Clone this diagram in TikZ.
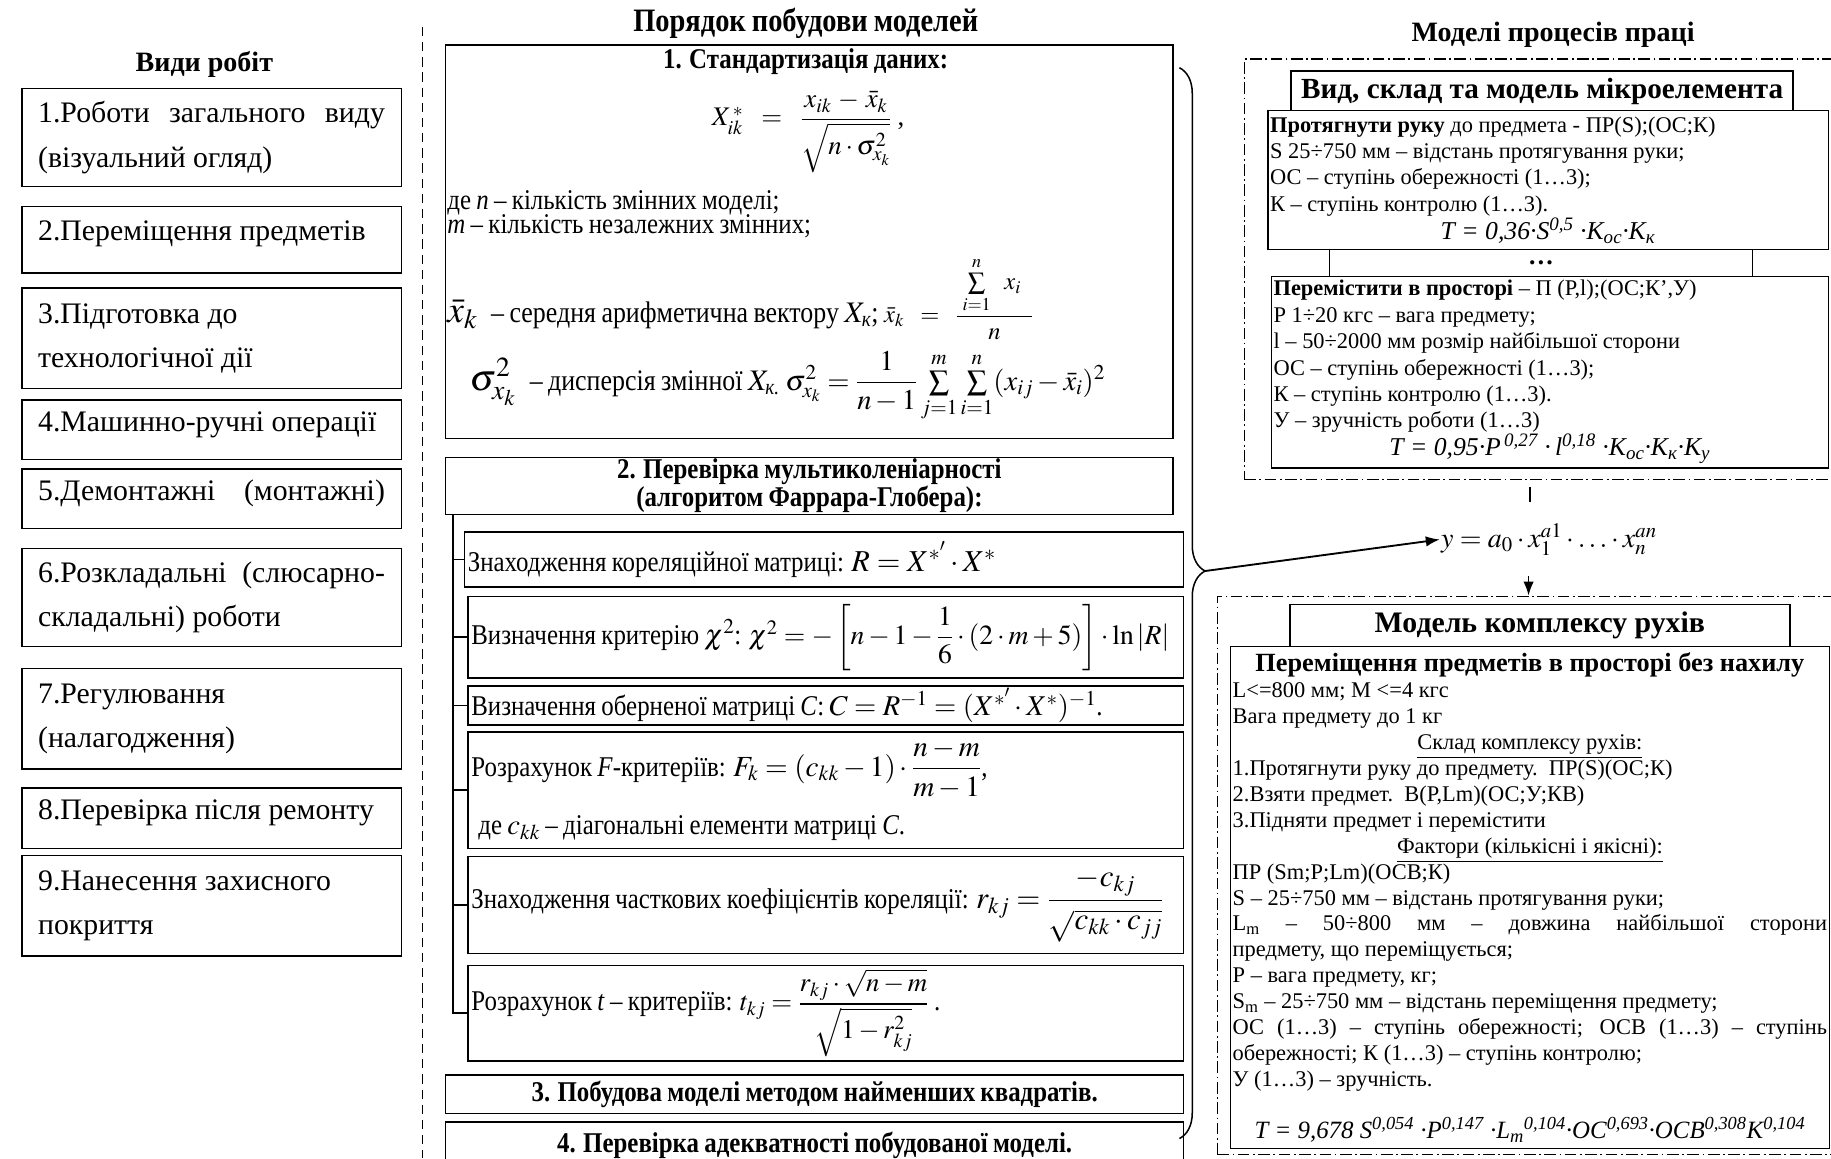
\documentclass[tikz,border=0pt]{standalone}
\usepackage{amsmath}
\usepackage{mathptmx}
\usepackage{fontspec}
\setmainfont{Liberation Serif}
\newfontfamily\narrowserif[FakeStretch=0.87, WordSpace=0.85]{Liberation Serif}
\usetikzlibrary{positioning, calc, arrows.meta, decorations.pathreplacing}

\newcommand{\sized}[2]{\fontsize{#1}{#2}\selectfont}
\newcommand{\fullline}[1]{\leavevmode\hbox to 509pt{\spaceskip=4.8pt plus 1fil\relax #1}}

\begin{document}
\begin{tikzpicture}[
  x=1pt, y=-1pt,
  kind/.style={
    rectangle, draw, line width=1.3pt, anchor=north west,
    text width=297pt, inner xsep=14pt, inner ysep=0pt,
    align=flush left, font=\sized{25.5}{38}
  },
  oneline/.style={text depth=15pt},
  stage/.style={
    rectangle, draw, line width=1.3pt, anchor=north west, fill=white,
    inner sep=0pt
  },
  stagehd/.style={font=\narrowserif\bfseries\sized{24.5}{22}, align=center},
  stagetxt/.style={font=\narrowserif\sized{24.5}{22}, anchor=base west, inner sep=2pt},
  substep/.style={
    rectangle, draw, line width=1.3pt, anchor=north west,
    text width=607pt, inner xsep=3pt, inner ysep=0pt,
    align=flush left, font=\narrowserif\sized{24.5}{27}
  },
  micro/.style={
    rectangle, draw, line width=1.3pt, anchor=north west, fill=white,
    inner xsep=2pt, inner ysep=0pt, align=flush left, font=\sized{19.2}{22.6}
  },
  microhd/.style={
    rectangle, draw, line width=1.3pt, anchor=north west, fill=white,
    inner sep=0pt, font=\bfseries\sized{25}{28}
  },
  outer/.style={
    rectangle, draw, line width=1pt, anchor=north west, inner sep=0pt,
    dash pattern=on 10pt off 3pt on 1.5pt off 3pt
  },
  coltitle/.style={font=\bfseries\sized{24}{28}},
  tree/.style={line width=1.3pt},
  arr/.style={-{Latex[length=12pt, width=9pt]}, line width=1.6pt}
]
  \path[use as bounding box, clip] (0,0) rectangle (1568,992);
  \fill[white] (0,0) rectangle (1568,992);

  % Види робіт
  \node[coltitle] (kindstitle) at (175,55) {Види робіт};
  \node[kind, minimum height=84pt] (w1) at (18,75) {1.Роботи\hfill загального\hfill виду\\(візуальний огляд)};
  \node[kind, oneline, minimum height=57pt] (w2) at (18,176) {2.Переміщення предметів};
  \node[kind, minimum height=86pt] (w3) at (18,246) {3.Підготовка до\\технологічної дії};
  \node[kind, oneline, minimum height=51pt] (w4) at (18,342) {4.Машинно-ручні операції};
  \node[kind, oneline, minimum height=51pt] (w5) at (18,401) {5.Демонтажні\hfill(монтажні)};
  \node[kind, minimum height=84pt] (w6) at (18,469) {6.Розкладальні\hfill(слюсарно-\\складальні) роботи};
  \node[kind, minimum height=86pt] (w7) at (18,572) {7.Регулювання\\(налагодження)};
  \node[kind, oneline, minimum height=52pt] (w8) at (18,674) {8.Перевірка після ремонту};
  \node[kind, minimum height=86pt] (w9) at (18,732) {9.Нанесення захисного\\покриття};
  \draw[line width=1.2pt, dash pattern=on 8pt off 5pt] (362,23) -- (362,992);

  % Порядок побудови моделей
  \node[stagehd, font=\narrowserif\bfseries\sized{28}{30}] (ordtitle) at (690,20) {Порядок побудови моделей};
  \node[stage, minimum width=623pt, minimum height=337pt] (std) at (381,38) {};
  \node[stagehd] (stdhd) at (690,53) {1. Стандартизація даних:};
  \node[font=\sized{23}{24}] (xstar) at (692,113)
    {$X^{\,*}_{ik} \;\;=\;\; \dfrac{x_{ik} \,-\, \bar{x}_{k}}{\sqrt{n\cdot\sigma^{2}_{x_{k}}}}\;$,};
  \node[stagetxt] (nvar) at (381,179) {де \textit{n} – кількість змінних моделі;};
  \node[stagetxt] (mvar) at (381,200) {\textit{m} – кількість незалежних змінних;};
  \node[stagetxt, font=\narrowserif\sized{25.5}{22}] (xmean) at (381,276)
    {{\sized{32}{32}$\bar{x}_{k}$}\; – середня арифметична вектору $X_{\text{\itshape к}}$;
     {\sized{21}{22}$\bar{x}_{k} \;\;=\;\; \dfrac{\;\sum\limits_{i=1}^{n}\;\; x_{i}\;\;}{n}$}};
  \node[stagetxt, font=\narrowserif\sized{25.5}{22}] (xdisp) at (400,334)
    {{\sized{32}{32}$\sigma^{2}_{x_{k}}$}\; – дисперсія змінної $X_{\text{\itshape к.}}$
     {\sized{24.5}{25}$\sigma^{2}_{x_{k}} = \dfrac{1}{n-1}\sum\limits_{j=1}^{m}\sum\limits_{i=1}^{n}(x_{ij}-\bar{x}_{i})^{2}$}};

  \node[stage, stagehd, minimum width=623pt, minimum height=49pt] (mult) at (381,391)
    {2. Перевірка мультиколеніарності\\(алгоритом Фаррара-Глобера):};
  \node[substep, minimum height=47pt, text width=610pt] (corr) at (397,455)
    {Знаходження кореляційної матриці: {\sized{26}{26}$R = X^{*'}\cdot X^{*}$}};
  \node[substep, minimum height=70pt] (chi) at (400,510)
    {\mbox{Визначення критерію $\chi^{2}$: {\sized{23.7}{24}$\chi^{2} = -\left[n-1-\dfrac{1}{6}\cdot(2\cdot m+5)\right]\cdot\ln|R|$}}};
  \node[substep, minimum height=33pt] (inv) at (400,587)
    {\mbox{Визначення оберненої матриці \textit{C}: {\sized{24.5}{24}$C = R^{-1} = (X^{*'}\cdot X^{*})^{-1}$}.}};
  \node[substep, minimum height=100pt] (fcrit) at (400,626)
    {Розрахунок \textit{F}-критеріїв: {\sized{25}{25}$F_{k} = (c_{kk}-1)\cdot\dfrac{n-m}{m-1}$},\\[14pt]
     \hspace*{6pt}де $c_{kk}$ – діагональні елементи матриці \textit{C}.};
  \node[substep, minimum height=83pt] (pcorr) at (400,733)
    {\mbox{Знаходження часткових коефіцієнтів кореляції: {\sized{26.5}{26}$r_{kj} = \dfrac{-c_{kj}}{\sqrt{c_{kk}\cdot c_{jj}}}$}}};
  \node[substep, minimum height=82pt] (tcrit) at (400,826)
    {Розрахунок \textit{t} – критеріїв: {\sized{23}{23}$t_{kj} = \dfrac{r_{kj}\cdot\sqrt{n-m}}{\sqrt{1-r_{kj}^{2}}}$} .};
  \coordinate (trunk) at (388,440);
  \draw[tree] (trunk) |- (tcrit.west);
  \foreach \s in {corr,chi,inv,fcrit,pcorr}
    \draw[tree] (trunk |- \s.west) -- (\s.west);

  \node[stage, stagehd, minimum width=632pt, minimum height=33pt] (lsq) at (381,920)
    {3. Побудова моделі методом найменших квадратів.};
  \node[stage, stagehd, minimum width=632pt, minimum height=40pt] (adeq) at (381,960)
    {4. Перевірка адекватності побудованої моделі.};

  \draw[line width=1.3pt, decorate, decoration={brace, amplitude=22pt, aspect=0.47}]
    (1010,58) -- (1010,975);
  \coordinate (tip) at (1032,489);

  % Моделі процесів праці
  \node[coltitle] (proctitle) at (1330,30) {Моделі процесів праці};
  \node[outer, minimum width=510pt, minimum height=360pt] (micro) at (1065,50) {};
  \node[microhd, minimum width=430pt, minimum height=35pt] (mhd) at (1105,60) {Вид, склад та модель мікроелемента};
  \node[micro, text width=476pt, minimum height=119pt] (reach) at (1085,94)
    {\textbf{Протягнути руку} до предмета - ПР(S);(ОС;К)\\
     S 25÷750 мм – відстань протягування руки;\\
     ОС – ступінь обережності (1…3);\\
     К – ступінь контролю (1…3).\\
     \hfill{\sized{22}{22.6}\itshape T = 0,36·S\textsuperscript{0,5} ·K\textsubscript{ос}·K\textsubscript{к}}\hfill\null};
  \node[microhd, minimum width=362pt, minimum height=23pt, font=\bfseries\sized{22}{22}] (gap) at (1138,213) {…};
  \node[micro, text width=473pt, minimum height=164pt] (move) at (1088,236)
    {\textbf{Перемістити в просторі} – П (Р,l);(ОС;К',У)\\
     Р 1÷20 кгс – вага предмету;\\
     l – 50÷2000 мм розмір найбільшої сторони\\
     ОС – ступінь обережності (1…3);\\
     К – ступінь контролю (1…3).\\
     У – зручність роботи (1…3)\\
     \hfill{\sized{22}{22.6}\itshape T = 0,95·P\textsuperscript{\,0,27} ·\,l\textsuperscript{0,18} ·K\textsubscript{ос}·K\textsubscript{к}·K\textsubscript{у}}\hfill\null};

  \node[font=\sized{24}{24}, anchor=west, inner sep=1pt] (ymodel) at (1233,462)
    {$y = a_{0}\cdot x_{1}^{a1}\cdot\ldots\cdot x_{n}^{an}$};
  \draw[arr] (tip) -- (ymodel.west);
  \coordinate (ystem) at (1310,430);
  \draw[line width=2pt, shorten <=6pt] (micro.south -| ystem) -- (ystem);

  \node[outer, minimum width=533pt, minimum height=478pt] (cmplx) at (1042,510) {};
  \draw[arr, line width=1.3pt, shorten <=16pt] (ymodel.south -| cmplx.north) -- (cmplx.north);
  \node[microhd, minimum width=428pt, minimum height=36pt, font=\bfseries\sized{25.5}{28}] (chd) at (1104,517) {Модель комплексу рухів};
  \node[micro, text width=509pt, minimum height=430pt, font=\sized{19.2}{22.2}] (motion) at (1053,553)
    {\hfill{\bfseries\sized{22.5}{22.2}Переміщення предметів в просторі без нахилу}\hfill\null\\
     L<=800 мм; М <=4 кгс\\
     Вага предмету до 1 кг\\
     \hfill\underline{Склад комплексу рухів:}\hfill\null\\
     1.Протягнути руку до предмету.\ \ ПР(S)(ОС;К)\\
     2.Взяти предмет.\ \ В(Р,Lm)(ОС;У;КВ)\\
     3.Підняти предмет і перемістити\\
     \hfill\underline{Фактори (кількісні і якісні):}\hfill\null\\
     ПР (Sm;P;Lm)(ОСВ;К)\\
     S – 25÷750 мм – відстань протягування руки;\\
     \fullline{L\textsubscript{m} – 50÷800 мм – довжина найбільшої сторони}\\
     предмету, що переміщується;\\
     Р – вага предмету, кг;\\
     S\textsubscript{m} – 25÷750 мм – відстань переміщення предмету;\\
     \fullline{ОС (1…3) – ступінь обережності; ОСВ (1…3) – ступінь}\\
     обережності; К (1…3) – ступінь контролю;\\
     У (1…3) – зручність.\\
     \mbox{}\\
     \hfill{\sized{21.3}{22.2}\itshape T = 9,678 S\textsuperscript{0,054} ·P\textsuperscript{0,147} ·L\textsubscript{m}\textsuperscript{0,104}·ОС\textsuperscript{0,693}·ОСВ\textsuperscript{0,308}K\textsuperscript{0,104}}\hfill\null};
\end{tikzpicture}
\end{document}
